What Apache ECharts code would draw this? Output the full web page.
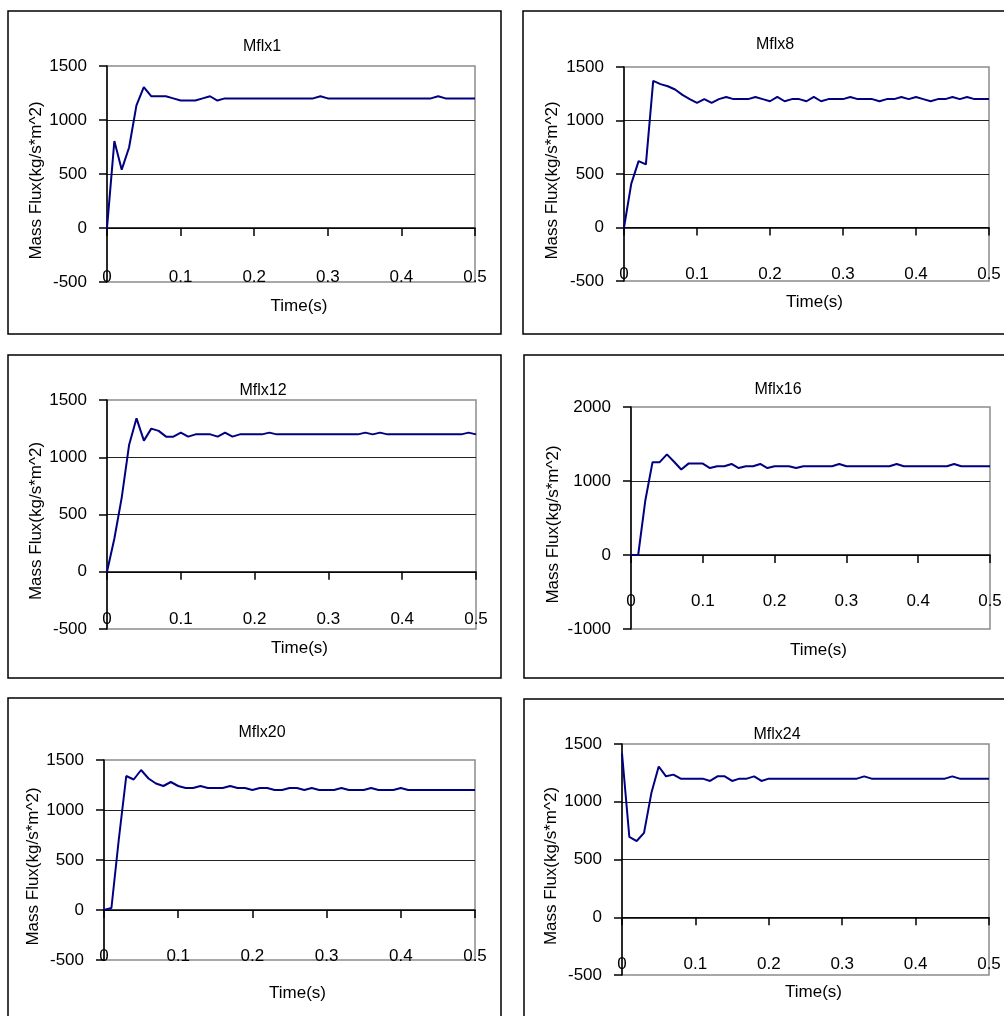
<!DOCTYPE html>
<html>
<head>
<meta charset="utf-8">
<script src="https://cdn.jsdelivr.net/npm/echarts@6/dist/echarts.min.js"></script>
<style>
html,body{margin:0;padding:0;background:#fff;}
#c{width:1004px;height:1016px;}
</style>
</head>
<body>
<div id="c"></div>
<script>
// ---------- DATA ----------
const time = [0,0.01,0.02,0.03,0.04,0.05,0.06,0.07,0.08,0.09,
  0.10,0.11,0.12,0.13,0.14,0.15,0.16,0.17,0.18,0.19,
  0.20,0.21,0.22,0.23,0.24,0.25,0.26,0.27,0.28,0.29,
  0.30,0.31,0.32,0.33,0.34,0.35,0.36,0.37,0.38,0.39,
  0.40,0.41,0.42,0.43,0.44,0.45,0.46,0.47,0.48,0.49,
  0.50];

const mflx1 = [0,805,540,745,1135,1305,1220,1220,1220,1200,
  1180,1180,1180,1200,1220,1180,1200,1200,1200,1200,
  1200,1200,1200,1200,1200,1200,1200,1200,1200,1220,
  1200,1200,1200,1200,1200,1200,1200,1200,1200,1200,
  1200,1200,1200,1200,1200,1220,1200,1200,1200,1200,
  1200];

const mflx8 = [0,410,620,590,1370,1340,1320,1290,1240,1200,
  1165,1200,1165,1200,1220,1200,1200,1200,1220,1200,
  1180,1220,1180,1200,1200,1180,1220,1180,1200,1200,
  1200,1220,1200,1200,1200,1180,1200,1200,1220,1200,
  1220,1200,1180,1200,1200,1220,1200,1220,1200,1200,
  1200];

const mflx12 = [0,290,650,1110,1340,1145,1250,1230,1180,1180,
  1215,1180,1200,1200,1200,1180,1215,1180,1200,1200,
  1200,1200,1215,1200,1200,1200,1200,1200,1200,1200,
  1200,1200,1200,1200,1200,1215,1200,1215,1200,1200,
  1200,1200,1200,1200,1200,1200,1200,1200,1200,1215,
  1200];

const mflx16 = [0,0,740,1255,1255,1360,1260,1155,1235,1235,
  1235,1175,1200,1200,1230,1175,1200,1200,1230,1175,
  1200,1200,1200,1175,1200,1200,1200,1200,1200,1230,
  1200,1200,1200,1200,1200,1200,1200,1230,1200,1200,
  1200,1200,1200,1200,1200,1230,1200,1200,1200,1200,
  1200];

const mflx20 = [0,20,710,1340,1305,1400,1315,1265,1240,1280,
  1240,1220,1220,1240,1220,1220,1220,1240,1220,1220,
  1200,1220,1220,1200,1200,1220,1220,1200,1220,1200,
  1200,1200,1220,1200,1200,1200,1220,1200,1200,1200,
  1220,1200,1200,1200,1200,1200,1200,1200,1200,1200,
  1200];

const mflx24 = [1420,695,660,730,1075,1305,1220,1235,1200,1200,
  1200,1200,1180,1220,1220,1180,1200,1200,1220,1180,
  1200,1200,1200,1200,1200,1200,1200,1200,1200,1200,
  1200,1200,1200,1220,1200,1200,1200,1200,1200,1200,
  1200,1200,1200,1200,1200,1220,1200,1200,1200,1200,
  1200];

const chartTitles = ['Mflx1','Mflx8','Mflx12','Mflx16','Mflx20','Mflx24'];
const seriesData = [mflx1, mflx8, mflx12, mflx16, mflx20, mflx24];
// [min, max, interval] of each value axis
const yRanges = [[-500,1500,500],[-500,1500,500],[-500,1500,500],[-1000,2000,1000],[-500,1500,500],[-500,1500,500]];
const xRange = [0, 0.5, 0.1];
const xAxisName = 'Time(s)';
const yAxisName = 'Mass Flux(kg/s*m^2)';

// ---------- LAYOUT ----------
// xLab: label centre offset from plot bottom; xGap: axis-name centre offset from plot bottom
const layout = [
  {grid:[107,66,368,216],  title:[262,47],  xLab:-5,  xGap:24, yGap:69, box:[8,11,493,323]},
  {grid:[624,67,365,214],  title:[775,45],  xLab:-7,  xGap:21, yGap:72, box:[523,11,520,323]},
  {grid:[107,400,369,229], title:[263,391], xLab:-10, xGap:19, yGap:69, box:[8,355,493,323]},
  {grid:[631,407,359,222], title:[778,390], xLab:-28, xGap:21, yGap:78, box:[524,355,520,323]},
  {grid:[104,760,371,200], title:[262,733], xLab:-4,  xGap:33, yGap:66, box:[8,698,493,400]},
  {grid:[622,744,367,231], title:[777,735], xLab:-11, xGap:17, yGap:69, box:[524,699,520,400]}
];

const FONT = '"Liberation Sans", Arial, sans-serif';
const LINE = '#000080';

const option = {
  animation: false,
  backgroundColor: '#fff',
  title: layout.map((l, i) => ({
    text: chartTitles[i],
    left: l.title[0], top: l.title[1],
    textAlign: 'center', textVerticalAlign: 'middle', padding: 0,
    textStyle: {fontSize: 16, fontWeight: 'normal', color: '#000', fontFamily: FONT}
  })),
  grid: layout.map(l => ({
    left: l.grid[0], top: l.grid[1], width: l.grid[2], height: l.grid[3],
    show: true, borderColor: '#8c8c8c', borderWidth: 1.5, backgroundColor: 'transparent',
    containLabel: false, outerBoundsMode: 'none'
  })),
  xAxis: layout.map((l, i) => ({
    gridIndex: i, type: 'value', min: xRange[0], max: xRange[1], interval: xRange[2],
    axisLine: {show: true, onZero: true, lineStyle: {color: '#000', width: 1.5}},
    axisTick: {show: true, length: 8, lineStyle: {color: '#000', width: 1.5}},
    axisLabel: {margin: l.xLab, verticalAlign: 'middle', fontSize: 17, color: '#000', fontFamily: FONT,
      formatter: v => String(v)},
    splitLine: {show: false},
    name: xAxisName, nameLocation: 'middle', nameGap: l.xGap,
    nameTextStyle: {fontSize: 17, color: '#000', fontFamily: FONT, verticalAlign: 'middle', padding: [0,0,0,16]}
  })),
  yAxis: layout.map((l, i) => ({
    gridIndex: i, type: 'value', min: yRanges[i][0], max: yRanges[i][1], interval: yRanges[i][2],
    axisLine: {show: true, onZero: false, lineStyle: {color: '#000', width: 1.5}},
    axisTick: {show: true, length: 8, lineStyle: {color: '#000', width: 1.5}},
    axisLabel: {margin: 20, fontSize: 17, color: '#000', fontFamily: FONT, formatter: v => String(v)},
    splitLine: {show: true, showMinLine: false, showMaxLine: false, lineStyle: {color: '#222', width: 1.2}},
    name: yAxisName, nameLocation: 'middle', nameGap: l.yGap,
    nameTextStyle: {fontSize: 17, color: '#000', fontFamily: FONT, verticalAlign: 'middle', padding: [0,13,0,0]}
  })),
  series: seriesData.map((arr, i) => ({
    type: 'line', name: chartTitles[i], xAxisIndex: i, yAxisIndex: i,
    data: time.map((t, j) => [t, arr[j]]),
    symbol: 'none', showSymbol: false, smooth: false, silent: true,
    lineStyle: {color: LINE, width: 2}, itemStyle: {color: LINE}
  })),
  graphic: layout.map(l => ({
    type: 'rect', silent: true, z: -10,
    shape: {x: l.box[0], y: l.box[1], width: l.box[2], height: l.box[3]},
    style: {fill: 'none', stroke: '#000', lineWidth: 1.5}
  }))
};

const chart = echarts.init(document.getElementById('c'), null, {renderer: 'canvas'});
chart.setOption(option);
</script>
</body>
</html>
